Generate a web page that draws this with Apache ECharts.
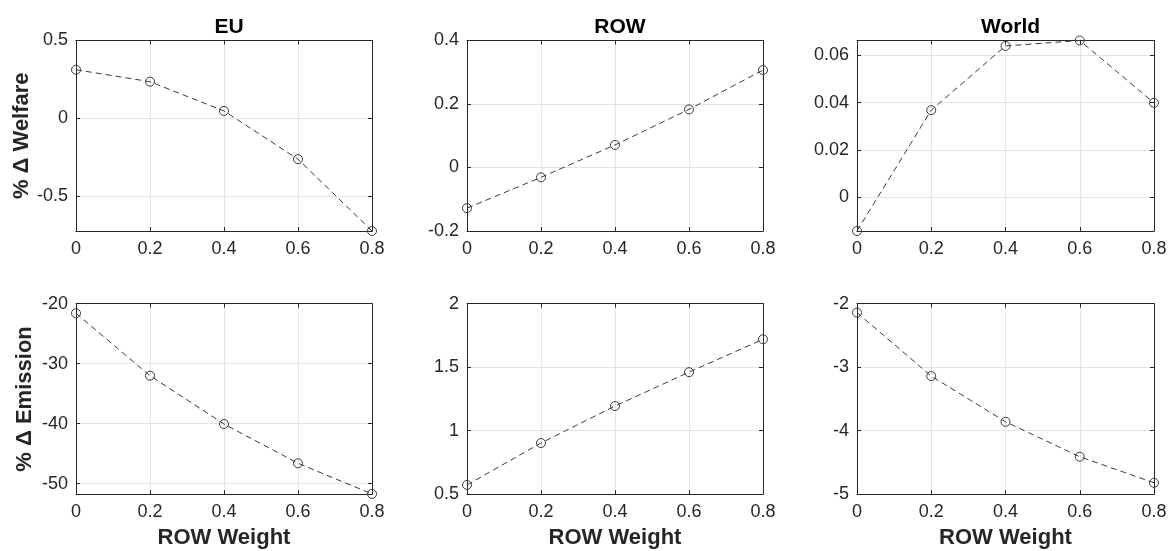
<!DOCTYPE html>
<html>
<head>
<meta charset="utf-8">
<script src="https://cdn.jsdelivr.net/npm/echarts@6/dist/echarts.min.js"></script>
<style>
  html, body { margin: 0; padding: 0; background: #fff; }
  #chart { width: 1169px; height: 551px; }
</style>
</head>
<body>
<div id="chart"></div>
<script>
// ROW weight on the x axis
var weights = [0, 0.2, 0.4, 0.6, 0.8];
var xTicks = [0, 0.2, 0.4, 0.6, 0.8];

// % change in welfare
var euWelfare = [0.312, 0.235, 0.047, -0.263, -0.725];
var rowWelfare = [-0.128, -0.031, 0.071, 0.183, 0.307];
var worldWelfare = [-0.0142, 0.0368, 0.0639, 0.0662, 0.0399];

// % change in emission
var euEmission = [-21.6, -32.0, -40.05, -46.6, -51.7];
var rowEmission = [0.573, 0.903, 1.194, 1.461, 1.72];
var worldEmission = [-2.14, -3.14, -3.86, -4.41, -4.82];

// y tick labels per panel
var euWelfareTicks = [-0.5, 0, 0.5];
var rowWelfareTicks = [-0.2, 0, 0.2, 0.4];
var worldWelfareTicks = [0, 0.02, 0.04, 0.06];
var euEmissionTicks = [-50, -40, -30, -20];
var rowEmissionTicks = [0.5, 1, 1.5, 2];
var worldEmissionTicks = [-5, -4, -3, -2];

var titles = ['EU', 'ROW', 'World'];

var FONT = '"Liberation Sans", Arial, Helvetica, sans-serif';
var AXIS_COLOR = '#262626';
var GRID_COLOR = '#e4e4e4';

function pairs(ys) {
	var out = [];
	for (var i = 0; i < weights.length; i++) {
		out.push([weights[i], ys[i]]);
	}
	return out;
}

// panel layout (pixels)
var colLeft = [76, 467, 857];
var colWidth = [296, 296, 297];
var rowTop = [40.5, 303.7];
var rowHeight = 190.5;

var panels = [
	{ row: 0, col: 0, data: euWelfare, ticks: euWelfareTicks, min: -0.725, max: 0.5, name: '% \u0394 Welfare' },
	{ row: 0, col: 1, data: rowWelfare, ticks: rowWelfareTicks, min: -0.2, max: 0.4 },
	{ row: 0, col: 2, data: worldWelfare, ticks: worldWelfareTicks, min: -0.0142, max: 0.0662 },
	{ row: 1, col: 0, data: euEmission, ticks: euEmissionTicks, min: -51.75, max: -20, name: '% \u0394 Emission' },
	{ row: 1, col: 1, data: rowEmission, ticks: rowEmissionTicks, min: 0.5, max: 2 },
	{ row: 1, col: 2, data: worldEmission, ticks: worldEmissionTicks, min: -5, max: -2 }
];

var grids = [], xAxes = [], yAxes = [], series = [], titleList = [];
var axisLine = { show: true, onZero: false, lineStyle: { color: AXIS_COLOR, width: 1 } };

for (var c = 0; c < 3; c++) {
	titleList.push({
		text: titles[c],
		left: colLeft[c] + colWidth[c] / 2,
		top: 12,
		textAlign: 'center',
		textStyle: { fontFamily: FONT, fontSize: 21, fontWeight: 'bold', color: '#000' }
	});
}

panels.forEach(function(p, i) {
	grids.push({
		left: colLeft[p.col],
		top: rowTop[p.row],
		width: colWidth[p.col],
		height: rowHeight,
		containLabel: false,
		outerBoundsMode: 'none'
	});
	// bottom / left axes carry labels and grid lines
	xAxes.push({
		type: 'value',
		gridIndex: i,
		min: 0,
		max: 0.8,
		interval: 0.2,
		name: p.row === 1 ? 'ROW Weight' : '',
		nameLocation: 'middle',
		nameGap: 33,
		nameTextStyle: { fontFamily: FONT, fontSize: 22, fontWeight: 'bold', color: '#262626' },
		axisLine: axisLine,
		axisTick: { show: true, inside: true, length: 4, lineStyle: { color: AXIS_COLOR } },
		axisLabel: { margin: 9, fontFamily: FONT, fontSize: 18, color: '#262626' },
		splitLine: { show: true, lineStyle: { color: GRID_COLOR, width: 1 } },
		z: 1
	});
	yAxes.push({
		type: 'value',
		gridIndex: i,
		min: p.min,
		max: p.max,
		name: p.name || '',
		nameLocation: 'middle',
		nameGap: 40,
		nameTextStyle: { fontFamily: FONT, fontSize: 22, fontWeight: 'bold', color: '#262626' },
		axisLine: axisLine,
		axisTick: { show: true, inside: true, length: 4, lineStyle: { color: AXIS_COLOR },
			customValues: p.ticks },
		axisLabel: { margin: 8, fontFamily: FONT, fontSize: 18, color: '#262626',
			customValues: p.ticks },
		splitLine: { show: true, lineStyle: { color: GRID_COLOR, width: 1 } },
		z: 1
	});
	series.push({
		type: 'line',
		xAxisIndex: i,
		yAxisIndex: i,
		data: pairs(p.data),
		symbol: 'circle',
		symbolSize: 9,
		lineStyle: { color: '#3a3a3a', width: 1, type: [6, 4] },
		itemStyle: { color: 'rgba(0,0,0,0)', borderColor: '#3a3a3a', borderWidth: 1 },
		emphasis: { disabled: true },
		z: 3
	});
});

// top / right axes close the box, with mirrored ticks
panels.forEach(function(p, i) {
	xAxes.push({
		type: 'value',
		gridIndex: i,
		position: 'top',
		min: 0,
		max: 0.8,
		interval: 0.2,
		axisLine: axisLine,
		axisTick: { show: true, inside: true, length: 4, lineStyle: { color: AXIS_COLOR } },
		axisLabel: { show: false },
		splitLine: { show: false },
		z: 2
	});
	yAxes.push({
		type: 'value',
		gridIndex: i,
		position: 'right',
		min: p.min,
		max: p.max,
		axisLine: axisLine,
		axisTick: { show: true, inside: true, length: 4, lineStyle: { color: AXIS_COLOR },
			customValues: p.ticks },
		axisLabel: { show: false, customValues: p.ticks },
		splitLine: { show: false },
		z: 2
	});
});

var myChart = echarts.init(document.getElementById('chart'), null, { renderer: 'canvas' });
var option = {
	animation: false,
	backgroundColor: '#fff',
	title: titleList,
	grid: grids,
	xAxis: xAxes,
	yAxis: yAxes,
	series: series
};
myChart.setOption(option, true);
</script>
</body>
</html>
